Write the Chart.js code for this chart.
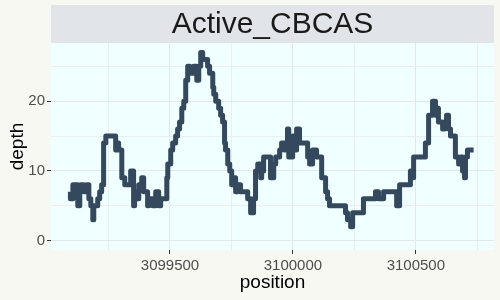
<!DOCTYPE html>
<html>
<head>
<meta charset="utf-8">
<script src="https://cdn.jsdelivr.net/npm/chart.js@4"></script>
<style>
  html, body { margin: 0; padding: 0; background: #F8F8F3; }
  #wrap { width: 500px; height: 300px; }
</style>
</head>
<body>
<div id="wrap"><canvas id="chart" width="500" height="300"></canvas></div>
<script>
// Panel title
const stripTitle = 'Active_CBCAS';

// Read depth change points (value holds until the next position)
const positions = [
    3099095, 3099105, 3099125, 3099133, 3099137, 3099149, 3099161, 3099170, 3099178, 3099186,
    3099190, 3099206, 3099214, 3099222, 3099230, 3099239, 3099279, 3099283, 3099291, 3099304,
    3099316, 3099340, 3099352, 3099356, 3099361, 3099373, 3099385, 3099393, 3099409, 3099413,
    3099430, 3099442, 3099454, 3099462, 3099487, 3099491, 3099503, 3099511, 3099523, 3099531,
    3099539, 3099548, 3099556, 3099564, 3099572, 3099580, 3099596, 3099609, 3099617, 3099625,
    3099633, 3099653, 3099661, 3099674, 3099678, 3099686, 3099698, 3099706, 3099714, 3099722,
    3099726, 3099735, 3099743, 3099751, 3099759, 3099767, 3099775, 3099787, 3099796, 3099816,
    3099828, 3099840, 3099848, 3099857, 3099869, 3099873, 3099881, 3099909, 3099913, 3099918,
    3099922, 3099930, 3099946, 3099954, 3099966, 3099978, 3099983, 3099999, 3100007, 3100015,
    3100027, 3100060, 3100068, 3100080, 3100096, 3100117, 3100133, 3100141, 3100149, 3100186,
    3100214, 3100222, 3100235, 3100243, 3100287, 3100336, 3100348, 3100369, 3100422, 3100434,
    3100478, 3100487, 3100491, 3100539, 3100552, 3100568, 3100580, 3100588, 3100592, 3100609,
    3100617, 3100625, 3100633, 3100641, 3100661, 3100674, 3100682, 3100690, 3100698, 3100702,
    3100710, 3100722, 3100735
];
const depths = [
    7, 6, 8, 5, 7, 8, 7, 8, 6, 5,
    3, 5, 6, 7, 8, 14, 15, 13, 14, 13,
    9, 8, 10, 5, 7, 6, 8, 9, 7, 5,
    6, 5, 7, 5, 6, 9, 11, 13, 14, 15,
    16, 17, 19, 20, 23, 25, 24, 25, 23, 25,
    27, 26, 25, 24, 22, 21, 20, 19, 18, 17,
    14, 13, 11, 10, 8, 9, 7, 8, 7, 7,
    6, 4, 6, 10, 11, 9, 10, 12, 9, 10,
    9, 11, 12, 13, 14, 13, 16, 12, 15, 13,
    16, 14, 12, 11, 13, 12, 9, 7, 6, 5,
    5, 4, 3, 2, 4, 6, 7, 6, 7, 5,
    8, 10, 9, 12, 14, 18, 20, 18, 19, 17,
    16, 17, 18, 16, 15, 12, 11, 12, 10, 9,
    12, 13, 13
];

// Axis ticks
const xMajorTicks = [3099500, 3100000, 3100500];
const xMinorTicks = [3099250, 3099750, 3100250, 3100750];
const yMajorTicks = [0, 10, 20];
const yMinorTicks = [5, 15, 25];

const xRange = [3099016, 3100818];
const yRange = [-1.35, 28.35];

const lineColor = '#34495E';
const gridMajor = '#E1E7EA';
const gridMinor = '#E9EFF1';
const fontFamily = '"Liberation Sans", Arial, sans-serif';

const points = positions.map((p, i) => ({ x: p, y: depths[i] }));

// Background, panel fill and facet strip
const panelPlugin = {
    id: 'panel',
    beforeDraw(chart) {
        const { ctx, chartArea } = chart;
        ctx.save();
        ctx.fillStyle = '#F8F8F3';
        ctx.fillRect(0, 0, chart.width, chart.height);
        ctx.fillStyle = '#F0FFFF';
        ctx.fillRect(chartArea.left, chartArea.top, chartArea.right - chartArea.left, chartArea.bottom - chartArea.top);
        ctx.fillStyle = '#E1E5E9';
        ctx.fillRect(chartArea.left, 5, chartArea.right - chartArea.left, chartArea.top - 5);
        ctx.fillStyle = '#1A1A1A';
        ctx.font = '30px ' + fontFamily;
        ctx.textAlign = 'center';
        ctx.textBaseline = 'middle';
        ctx.fillText(stripTitle, (chartArea.left + chartArea.right) / 2, (5 + chartArea.top) / 2 + 1);
        ctx.restore();
    }
};

const toTicks = (major, minor) => major.concat(minor).sort((a, b) => a - b).map(v => ({ value: v }));

new Chart(document.getElementById('chart'), {
    type: 'line',
    data: {
        datasets: [{
            data: points,
            borderColor: lineColor,
            borderWidth: 5,
            stepped: 'after',
            pointRadius: 0,
            borderJoinStyle: 'round',
            fill: false,
        }],
    },
    options: {
        responsive: false,
        animation: false,
        events: [],
        layout: { padding: { left: 0, right: 6, top: 43, bottom: 0 } },
        plugins: { legend: { display: false }, tooltip: { enabled: false } },
        scales: {
            x: {
                type: 'linear',
                min: xRange[0],
                max: xRange[1],
                afterBuildTicks: (s) => { s.ticks = toTicks(xMajorTicks, xMinorTicks); },
                afterFit: (s) => { s.height = 50; },
                border: { display: false },
                grid: {
                    color: (c) => xMajorTicks.includes(c.tick && c.tick.value) ? gridMajor : gridMinor,
                    tickColor: (c) => xMajorTicks.includes(c.tick && c.tick.value) ? '#333333' : 'rgba(0,0,0,0)',
                    tickLength: 4,
                    lineWidth: 1,
                },
                ticks: {
                    autoSkip: false,
                    maxRotation: 0,
                    padding: 3,
                    color: '#4D4D4D',
                    font: { family: fontFamily, size: 15 },
                    callback: (v) => xMajorTicks.includes(v) ? String(v) : '',
                },
                title: {
                    display: true,
                    text: 'position',
                    color: '#000000',
                    font: { family: fontFamily, size: 19 },
                    padding: { top: 6, bottom: 6 },
                },
            },
            y: {
                type: 'linear',
                min: yRange[0],
                max: yRange[1],
                afterBuildTicks: (s) => { s.ticks = toTicks(yMajorTicks, yMinorTicks); },
                afterFit: (s) => { s.width = 51; },
                border: { display: false },
                grid: {
                    color: (c) => yMajorTicks.includes(c.tick && c.tick.value) ? gridMajor : gridMinor,
                    tickColor: (c) => yMajorTicks.includes(c.tick && c.tick.value) ? '#333333' : 'rgba(0,0,0,0)',
                    tickLength: 4,
                    lineWidth: 1,
                },
                ticks: {
                    autoSkip: false,
                    padding: 2,
                    color: '#4D4D4D',
                    font: { family: fontFamily, size: 15 },
                    callback: (v) => yMajorTicks.includes(v) ? String(v) : '',
                },
                title: {
                    display: true,
                    text: 'depth',
                    color: '#000000',
                    font: { family: fontFamily, size: 19 },
                    padding: { top: 6, bottom: 6 },
                },
            },
        },
    },
    plugins: [panelPlugin],
});
</script>
</body>
</html>
